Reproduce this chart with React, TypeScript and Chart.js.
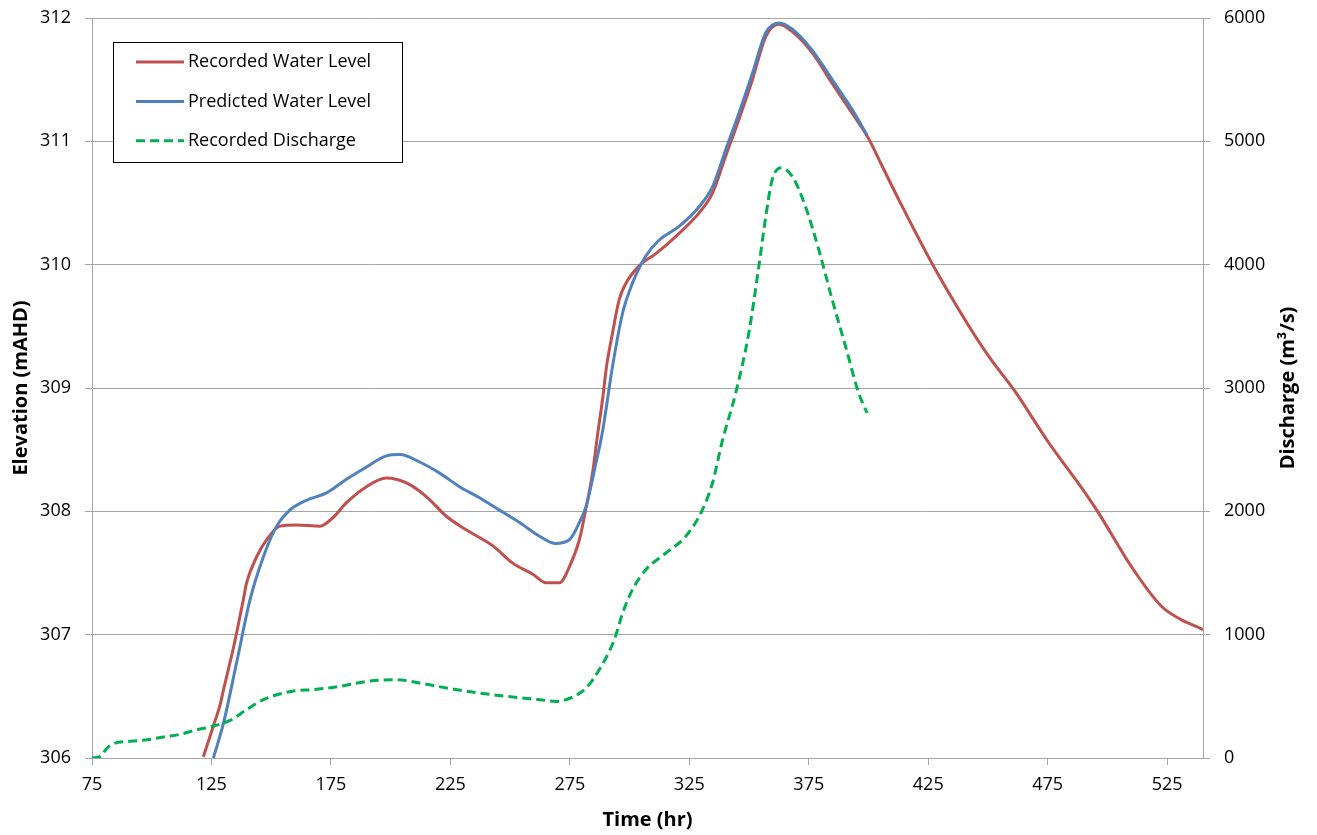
import React, { useEffect, useRef } from 'react';
import { Chart, registerables } from 'chart.js';

Chart.register(...registerables);

// ---- data ----
const recordedTime = [121.6, 125.8, 128.6, 130.0, 134.5, 138.3, 139.7, 143.9, 148.1, 153.6, 160.6, 170.4, 175.9, 181.5, 189.9, 198.2, 206.6, 214.9, 223.3, 231.6, 242.8, 251.1, 259.5, 265.1, 270.6, 274.8, 279.0, 282.0, 284.5, 286.6, 288.7, 290.4, 292.9, 295.7, 298.5, 304.0, 311.0, 319.4, 329.1, 334.7, 340.2, 345.8, 351.4, 357.0, 362.5, 368.1, 376.4, 384.8, 393.1, 400.1, 405.7, 412.6, 426.6, 440.5, 450.2, 461.4, 475.3, 489.2, 496.2, 510.1, 522.6, 531.0, 538.0, 540.0];
const recordedLevel = [306.01, 306.26, 306.43, 306.55, 306.92, 307.28, 307.42, 307.63, 307.77, 307.88, 307.89, 307.88, 307.95, 308.07, 308.20, 308.27, 308.23, 308.12, 307.96, 307.85, 307.72, 307.58, 307.49, 307.42, 307.42, 307.55, 307.77, 308.05, 308.31, 308.62, 308.91, 309.18, 309.45, 309.72, 309.85, 309.99, 310.09, 310.23, 310.42, 310.58, 310.88, 311.18, 311.50, 311.85, 311.95, 311.89, 311.72, 311.47, 311.23, 311.02, 310.80, 310.53, 310.01, 309.55, 309.26, 308.97, 308.56, 308.19, 307.99, 307.55, 307.23, 307.12, 307.06, 307.04];

const predictedTime = [125.8, 130.0, 135.6, 141.1, 146.7, 152.3, 157.8, 164.8, 173.2, 181.5, 189.9, 198.2, 203.8, 212.1, 220.5, 228.8, 237.2, 245.5, 253.9, 262.2, 268.8, 274.8, 279.0, 281.8, 285.9, 288.7, 292.9, 297.1, 301.2, 306.8, 312.4, 320.7, 329.1, 334.7, 340.2, 345.8, 351.4, 357.0, 362.5, 368.1, 376.4, 384.8, 393.1, 399.4];
const predictedLevel = [306.00, 306.28, 306.78, 307.28, 307.63, 307.88, 308.01, 308.09, 308.15, 308.26, 308.36, 308.45, 308.46, 308.40, 308.31, 308.20, 308.11, 308.01, 307.91, 307.80, 307.74, 307.77, 307.91, 308.04, 308.39, 308.65, 309.18, 309.61, 309.85, 310.07, 310.20, 310.31, 310.47, 310.63, 310.93, 311.23, 311.55, 311.88, 311.96, 311.91, 311.74, 311.50, 311.26, 311.05];

const dischargeTime = [75, 78.5, 81.3, 84.0, 91.0, 98.0, 104.9, 111.9, 118.9, 125.8, 132.8, 139.7, 146.7, 153.7, 160.0, 167.6, 178.7, 189.9, 202.4, 212.1, 223.3, 237.2, 251.1, 262.3, 269.2, 276.2, 281.8, 287.3, 293.6, 297.1, 301.2, 306.8, 315.2, 323.5, 330.5, 334.7, 338.8, 344.4, 349.9, 354.1, 357.0, 359.7, 363.2, 368.1, 373.6, 379.2, 384.8, 390.4, 395.9, 399.4];
const dischargeValue = [0, 13, 81, 116, 135, 148, 170, 192, 229, 259, 305, 392, 473, 519, 545, 554, 581, 621, 635, 608, 568, 527, 495, 473, 459, 495, 568, 716, 959, 1176, 1365, 1527, 1662, 1797, 2013, 2230, 2570, 2959, 3446, 3986, 4391, 4689, 4784, 4716, 4472, 4121, 3716, 3337, 2959, 2797];

const timeTicks = [75, 125, 175, 225, 275, 325, 375, 425, 475, 525];
const seriesLabels = ['Recorded Water Level', 'Predicted Water Level', 'Recorded Discharge'];
const xTitle = 'Time (hr)';
const yTitle = 'Elevation (mAHD)';
const y2Title = 'Discharge (m³/s)';

const FONT = "'Open Sans', sans-serif";
const AXIS_GRAY = '#a6a6a6';

const toPoints = (xs: number[], ys: number[]) => xs.map((x, i) => ({ x, y: ys[i] }));

const boxLegend = {
  id: 'boxLegend',
  afterDraw(chart: any) {
    const { ctx } = chart;
    const left = 113;
    const top = 42;
    const w = 289;
    const h = 120;
    ctx.save();
    ctx.fillStyle = '#ffffff';
    ctx.fillRect(left, top, w, h);
    ctx.strokeStyle = '#000000';
    ctx.lineWidth = 1;
    ctx.setLineDash([]);
    ctx.strokeRect(left + 0.5, top + 0.5, w, h);
    chart.data.datasets.forEach((ds: any, i: number) => {
      const y = top + 20 + i * 39.4;
      ctx.beginPath();
      ctx.setLineDash(ds.borderDash || []);
      ctx.strokeStyle = ds.borderColor;
      ctx.lineWidth = ds.borderWidth;
      ctx.moveTo(left + 23, y);
      ctx.lineTo(left + 71, y);
      ctx.stroke();
      ctx.setLineDash([]);
      ctx.fillStyle = '#000000';
      ctx.font = `18px ${FONT}`;
      ctx.textBaseline = 'middle';
      ctx.textAlign = 'left';
      ctx.fillText(ds.label, left + 75, y);
    });
    ctx.restore();
  },
};

const rightTitle = {
  id: 'rightTitle',
  afterDraw(chart: any) {
    const { ctx, chartArea } = chart;
    ctx.save();
    ctx.translate(1288, (chartArea.top + chartArea.bottom) / 2);
    ctx.rotate(-Math.PI / 2);
    ctx.font = `bold 20px ${FONT}`;
    ctx.fillStyle = '#000000';
    ctx.textAlign = 'center';
    ctx.textBaseline = 'middle';
    ctx.fillText(y2Title, 0, 0);
    ctx.restore();
  },
};

export default function App() {
  const ref = useRef<HTMLCanvasElement | null>(null);
  useEffect(() => {
    if (!ref.current) return;
    Chart.defaults.font.family = FONT;
    Chart.defaults.color = '#000000';
    const chart = new Chart(ref.current, {
      type: 'line',
      data: {
        datasets: [
          {
            label: seriesLabels[0],
            data: toPoints(recordedTime, recordedLevel),
            borderColor: '#C0504D',
            borderWidth: 3,
            pointRadius: 0,
            cubicInterpolationMode: 'monotone',
            yAxisID: 'y',
            order: 2,
          },
          {
            label: seriesLabels[1],
            data: toPoints(predictedTime, predictedLevel),
            borderColor: '#4F81BD',
            borderWidth: 3,
            pointRadius: 0,
            cubicInterpolationMode: 'monotone',
            yAxisID: 'y',
            order: 1,
          },
          {
            label: seriesLabels[2],
            data: toPoints(dischargeTime, dischargeValue),
            borderColor: '#00B050',
            borderWidth: 3,
            borderDash: [9, 5],
            pointRadius: 0,
            cubicInterpolationMode: 'monotone',
            yAxisID: 'y2',
            order: 0,
          },
        ] as any,
      },
      options: {
        responsive: false,
        animation: false,
        devicePixelRatio: 1,
        layout: { padding: { top: 18, left: 0, right: 0, bottom: 0 } },
        plugins: {
          legend: { display: false },
          tooltip: { enabled: false },
        },
        scales: {
          x: {
            type: 'linear',
            min: 75,
            max: 540,
            afterBuildTicks: (scale: any) => {
              scale.ticks = timeTicks.map((v) => ({ value: v }));
            },
            afterFit: (scale: any) => {
              scale.height = 77;
              scale.paddingLeft = 0;
              scale.paddingRight = 0;
            },
            grid: { drawOnChartArea: false, drawTicks: true, tickLength: 7, color: AXIS_GRAY },
            border: { display: true, color: AXIS_GRAY },
            ticks: { font: { size: 18 }, padding: 9, maxRotation: 0, color: '#000' },
            title: { display: true, text: xTitle, font: { size: 20, weight: 'bold' }, padding: { top: 0, bottom: 3 }, color: '#000' },
          },
          y: {
            type: 'linear',
            position: 'left',
            min: 306,
            max: 312,
            ticks: { stepSize: 1, font: { size: 18 }, padding: 14, color: '#000', callback: (v: any) => String(v) },
            afterFit: (scale: any) => {
              scale.width = 92;
              scale.paddingTop = 0;
              scale.paddingBottom = 0;
            },
            grid: { color: AXIS_GRAY, tickLength: 7, drawTicks: true },
            border: { display: true, color: AXIS_GRAY },
            title: { display: true, text: yTitle, font: { size: 20, weight: 'bold' }, padding: { top: 9, bottom: 0 }, color: '#000' },
          },
          y2: {
            type: 'linear',
            position: 'right',
            min: 0,
            max: 6000,
            ticks: { stepSize: 1000, font: { size: 18 }, padding: 14, color: '#000', callback: (v: any) => String(v) },
            afterFit: (scale: any) => {
              scale.width = 114;
              scale.paddingTop = 0;
              scale.paddingBottom = 0;
            },
            grid: { drawOnChartArea: false, color: AXIS_GRAY, tickLength: 7, drawTicks: true },
            border: { display: true, color: AXIS_GRAY },
            title: { display: false },
          },
        },
      } as any,
      plugins: [boxLegend, rightTitle],
    });
    return () => chart.destroy();
  }, []);

  return (
    <div style={{ position: 'absolute', left: 0, top: 0, width: 1317, height: 835, background: '#fff' }}>
      <canvas ref={ref} width={1317} height={835} style={{ width: 1317, height: 835, display: 'block' }} />
    </div>
  );
}
